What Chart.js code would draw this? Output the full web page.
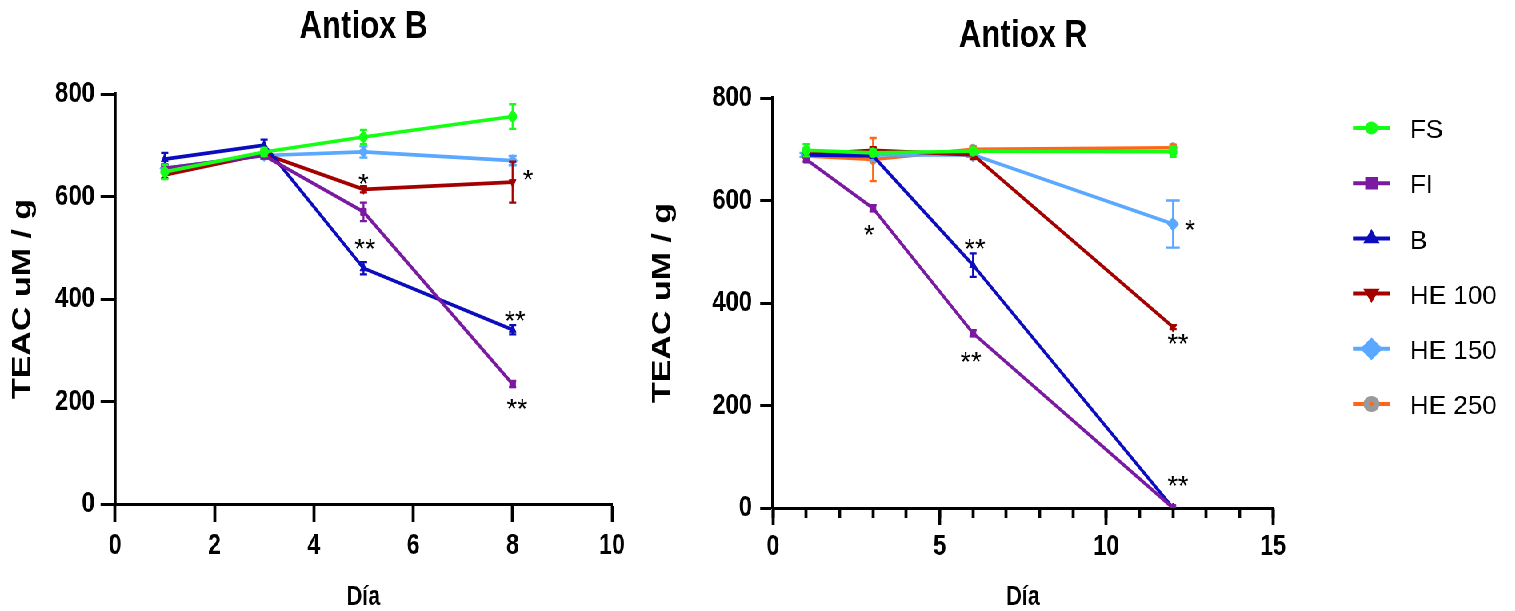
<!DOCTYPE html>
<html><head><meta charset="utf-8">
<script src="https://cdn.jsdelivr.net/npm/chart.js@4/dist/chart.umd.min.js"></script>
<style>
html,body{margin:0;padding:0;background:#fff;overflow:hidden;width:1515px;height:611px;}
#wrap{position:absolute;left:0;top:0;width:1894px;height:611px;transform:scaleX(0.8);transform-origin:0 0;}
#c1{position:absolute;left:0;top:0;}
#c2{position:absolute;left:790px;top:0;}
</style></head><body>
<div id="wrap"><canvas id="c1" width="790" height="611"></canvas><canvas id="c2" width="1104" height="611"></canvas></div>
<script>
// ---------- DATA ----------
const seriesNames = ['FS', 'FI', 'B', 'HE 100', 'HE 150', 'HE 250'];
const titleB = 'Antiox B';
const titleR = 'Antiox R';
const yTitle = 'TEAC uM / g';
const xTitle = 'Día';
const yTicks = [0, 200, 400, 600, 800];
const xTicksB = [0, 2, 4, 6, 8, 10];
const xTicksR = [0, 5, 10, 15];

// Antiox B
const daysB = [1, 3, 5, 8];
const bFS = [648, 687, 716, 756];
const bFSerr = [14, 8, 14, 24];
const bFI = [655, 680, 570, 234];
const bFIerr = [8, 6, 18, 6];
const bB = [673, 700, 460, 340];
const bBerr = [12, 11, 12, 9];
const bHE100 = [642, 683, 614, 628];
const bHE100err = [6, 6, 6, 40];
const bHE150 = [655, 680, 687, 670];
const bHE150err = [6, 6, 11, 9];

// Antiox R
const daysR = [1, 3, 6, 12];
const rFS = [698, 693, 696, 695];
const rFSerr = [12, 6, 6, 10];
const rFI = [680, 585, 341, 0];
const rFIerr = [4, 6, 6, 0];
const rB = [689, 687, 474, 0];
const rBerr = [4, 4, 23, 0];
const rHE100 = [690, 698, 689, 353];
const rHE100err = [4, 6, 8, 4];
const rHE150 = [689, 689, 689, 554];
const rHE150err = [4, 4, 4, 46];
const rHE250 = [687, 680, 700, 703];
const rHE250err = [4, 42, 6, 6];

// significance marks (data coordinates of the mark centre)
const starsB = [
  {x: 5.0, y: 638, t: '*'}, {x: 8.31, y: 644, t: '*'}, {x: 5.03, y: 511, t: '**'},
  {x: 8.05, y: 369, t: '**'}, {x: 8.09, y: 199, t: '**'}
];
const starsR = [
  {x: 2.88, y: 546, t: '*'}, {x: 6.06, y: 519, t: '**'}, {x: 5.94, y: 298, t: '**'},
  {x: 12.51, y: 556, t: '*'}, {x: 12.15, y: 332, t: '**'}, {x: 12.15, y: 55, t: '**'}
];

// ---------- STYLE ----------
const FONT = "'Liberation Sans', Arial, Helvetica, sans-serif";
const STYLE = {
  'FS':     {color: '#14ff14', point: 'circle',   r: 5, rot: 0,   fill: '#14ff14', cap: 4.5},
  'FI':     {color: '#7a1aa0', point: 'rect',     r: 5, rot: 0,   fill: '#7a1aa0', cap: 4.5},
  'B':      {color: '#0c0cbf', point: 'triangle', r: 5, rot: 0,   fill: '#0c0cbf', cap: 4.5},
  'HE 100': {color: '#a30000', point: 'triangle', r: 5, rot: 180, fill: '#a30000', cap: 4.5},
  'HE 150': {color: '#5aa8ff', point: 'rectRot',  r: 6, rot: 0,   fill: '#5aa8ff', cap: 5},
  'HE 250': {color: '#ff6619', point: 'circle',   r: 5, rot: 0,   fill: '#9a9a9a', cap: 4.5}
};

function mkDataset(name, days, vals, errs, extra) {
  const s = STYLE[name];
  return Object.assign({
    label: name,
    data: days.map((d, i) => ({x: d, y: vals[i]})),
    errors: errs,
    errCap: s.cap,
    borderColor: s.color,
    backgroundColor: s.fill,
    borderWidth: 3.6,
    pointStyle: s.point,
    pointRotation: s.rot,
    pointRadius: s.r,
    pointBackgroundColor: s.fill,
    pointBorderColor: s.fill,
    pointBorderWidth: 1,
    tension: 0,
    fill: false
  }, extra || {});
}

// ---------- PLUGINS ----------
const errorBars = {
  id: 'errorBars',
  afterDatasetDraw(chart, args) {
    const ds = chart.data.datasets[args.index];
    if (!ds.errors) return;
    const ys = chart.scales.y, ctx = chart.ctx;
    ctx.save();
    ctx.strokeStyle = ds.borderColor;
    ctx.lineWidth = 2.3;
    args.meta.data.forEach((pt, i) => {
      const e = ds.errors[i];
      if (!e) return;
      const v = ds.data[i].y;
      const x = pt.x, y1 = ys.getPixelForValue(v + e), y2 = ys.getPixelForValue(v - e);
      const c = ds.errCap;
      ctx.beginPath();
      ctx.moveTo(x, y1); ctx.lineTo(x, y2);
      ctx.moveTo(x - c, y1); ctx.lineTo(x + c, y1);
      ctx.moveTo(x - c, y2); ctx.lineTo(x + c, y2);
      ctx.stroke();
    });
    ctx.restore();
  }
};

const stars = {
  id: 'stars',
  afterDatasetsDraw(chart, args, opts) {
    const items = opts.items || [];
    const ctx = chart.ctx, xs = chart.scales.x, ys = chart.scales.y;
    ctx.save();
    ctx.fillStyle = '#000';
    ctx.font = '27px ' + FONT;
    ctx.textAlign = 'center';
    ctx.textBaseline = 'alphabetic';
    items.forEach(it => {
      const px = xs.getPixelForValue(it.x), py = ys.getPixelForValue(it.y);
      ctx.save();
      ctx.translate(px, py);
      ctx.scale(1.25, 1);
      ctx.fillText(it.t, 0, 15.5);
      ctx.restore();
    });
    ctx.restore();
  }
};

const sideLegend = {
  id: 'sideLegend',
  afterDraw(chart, args, opts) {
    if (!opts.show) return;
    const ctx = chart.ctx;
    ctx.save();
    ctx.translate(opts.x, 0);
    ctx.scale(1.25, 1);
    chart.data.datasets.forEach((ds, i) => {
      const s = STYLE[ds.label];
      const y = opts.top + i * opts.step;
      ctx.strokeStyle = s.color;
      ctx.lineWidth = 4;
      ctx.beginPath(); ctx.moveTo(0, y); ctx.lineTo(37, y); ctx.stroke();
      ctx.fillStyle = s.fill;
      ctx.strokeStyle = s.fill;
      const rr = {FS: 4.5, FI: 6, B: 5.5, 'HE 100': 5.5, 'HE 150': 8.5, 'HE 250': 6}[ds.label];
      if (Chart.helpers && Chart.helpers.drawPoint) {
        Chart.helpers.drawPoint(ctx, {pointStyle: s.point, radius: rr, rotation: s.rot, borderWidth: 1}, 18.5, y);
      } else {
        ctx.beginPath(); ctx.arc(18.5, y, rr, 0, Math.PI * 2); ctx.fill();
      }
      if (ds.label === 'HE 250') {
        ctx.fillStyle = s.color;
        ctx.beginPath(); ctx.arc(18.5, y, 2, 0, Math.PI * 2); ctx.fill();
      }
      ctx.fillStyle = '#000';
      ctx.font = '26px ' + FONT;
      ctx.textAlign = 'left';
      ctx.textBaseline = 'middle';
      ctx.fillText(ds.label, 57, y + 3);
    });
    ctx.restore();
  }
};

// ---------- CHART BUILDER ----------
function makeChart(canvas, g) {
  const scales = {
    x: {
      type: 'linear', position: 'bottom', weight: 1,
      min: g.xTicks[0], max: g.xTicks[g.xTicks.length - 1],
      afterBuildTicks: sc => { sc.ticks = g.xTicks.map(v => ({value: v})); },
      afterFit: sc => { sc.height = g.xH; },
      grid: {drawOnChartArea: false, drawTicks: true, tickLength: g.xTL, tickWidth: 3.75, tickColor: '#000'},
      border: {display: true, color: '#000', width: 3},
      ticks: {color: '#000', padding: g.xPad, font: {family: FONT, size: 29, weight: 'bold'}, maxRotation: 0, autoSkip: false},
      title: {display: true, text: xTitle, color: '#000', font: {family: FONT, size: 27, weight: 'bold', lineHeight: 1}, padding: {top: 0, bottom: 0}}
    },
    y: {
      type: 'linear', position: 'left',
      min: yTicks[0], max: yTicks[yTicks.length - 1],
      afterBuildTicks: sc => { sc.ticks = yTicks.map(v => ({value: v})); },
      afterFit: sc => { sc.width = g.yW; },
      grid: {drawOnChartArea: false, drawTicks: true, tickLength: g.yTL, tickWidth: 3, tickColor: '#000'},
      border: {display: true, color: '#000', width: 3.75},
      ticks: {color: '#000', padding: g.yPad, font: {family: FONT, size: 30, weight: 'bold'}},
      title: {display: true, text: yTitle, color: '#000', font: {family: FONT, size: 34, weight: 'bold'}, padding: {top: g.yTitlePad, bottom: 0}}
    }
  };
  if (g.minor) {
    scales.x2 = {
      type: 'linear', position: 'bottom', weight: 0,
      min: g.xTicks[0], max: g.xTicks[g.xTicks.length - 1],
      afterBuildTicks: sc => { sc.ticks = g.minor.map(v => ({value: v})); },
      afterFit: sc => { sc.height = 0; },
      grid: {drawOnChartArea: false, drawTicks: true, tickLength: 10, tickWidth: 3.75, tickColor: '#000'},
      border: {display: false},
      ticks: {display: false}
    };
  }
  return new Chart(canvas, {
    type: 'line',
    data: {datasets: g.datasets},
    plugins: [errorBars, stars, sideLegend],
    options: {
      responsive: false,
      animation: false,
      devicePixelRatio: 1,
      layout: {padding: {left: 0, right: g.padR, top: 0, bottom: 0}},
      scales: scales,
      plugins: {
        legend: {display: false},
        tooltip: {enabled: false},
        title: {display: true, text: g.title, fullSize: false, color: '#000',
          font: {family: FONT, size: 39, weight: 'bold', lineHeight: 1.2},
          padding: {top: g.tPadT, bottom: g.tPadB}},
        stars: {items: g.stars},
        sideLegend: g.legend || {show: false}
      }
    }
  });
}

const minorR = [];
for (let v = xTicksR[0]; v <= xTicksR[xTicksR.length - 1]; v++) minorR.push(v);

makeChart(document.getElementById('c1'), {
  title: titleB,
  xTicks: xTicksB,
  datasets: [
    mkDataset('FS', daysB, bFS, bFSerr),
    mkDataset('FI', daysB, bFI, bFIerr),
    mkDataset('B', daysB, bB, bBerr),
    mkDataset('HE 100', daysB, bHE100, bHE100err),
    mkDataset('HE 150', daysB, bHE150, bHE150err)
  ],
  stars: starsB,
  padR: 25, yW: 143.75, yTL: 18, yPad: 7, yTitlePad: 8.3,
  xH: 107, xTL: 18, xPad: 7,
  tPadT: 3.6, tPadB: 43.6
});

makeChart(document.getElementById('c2'), {
  title: titleR,
  xTicks: xTicksR,
  minor: minorR,
  datasets: [
    mkDataset('FS', daysR, rFS, rFSerr),
    mkDataset('FI', daysR, rFI, rFIerr),
    mkDataset('B', daysR, rB, rBerr),
    mkDataset('HE 100', daysR, rHE100, rHE100err),
    mkDataset('HE 150', daysR, rHE150, rHE150err, {pointRadius: 7, errCap: 8.5}),
    mkDataset('HE 250', daysR, rHE250, rHE250err)
  ],
  stars: starsR,
  padR: 302.75, yW: 176.25, yTL: 16, yPad: 10, yTitlePad: 18.3,
  xH: 103, xTL: 17, xPad: 4.5,
  tPadT: 12.6, tPadB: 38.6,
  legend: {show: true, x: 901.25, top: 128, step: 55.2}
});
</script>
</body></html>
